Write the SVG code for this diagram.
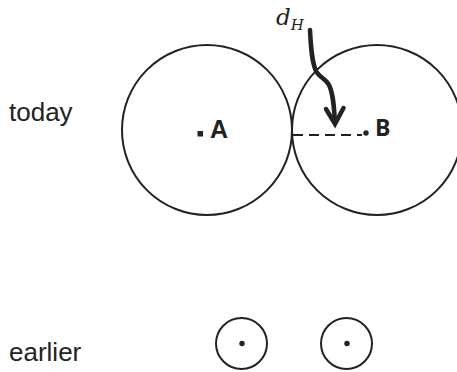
<svg xmlns="http://www.w3.org/2000/svg" width="457" height="372" viewBox="0 0 457 372">
<style>
.c{fill:none;stroke:#222;stroke-width:2}
.lbl{font-family:"Liberation Sans",Arial,sans-serif;font-size:26px;fill:#222}
.dot{fill:#222}
</style>
<rect width="457" height="372" fill="#fff"/>
<text class="lbl" x="9" y="121">today</text>
<text class="lbl" x="9" y="361">earlier</text>
<g id="circleA">
<circle class="c" cx="207" cy="130" r="85"/>
<rect class="dot" x="197.5" y="131" width="5.5" height="5.5"/>
<text x="210" y="138" style="font-family:'Liberation Sans',Arial,sans-serif;font-weight:bold;font-size:25px;fill:#222">A</text>
</g>
<g id="circleB">
<circle class="c" cx="377" cy="130" r="85"/>
<circle class="dot" cx="366" cy="133" r="2.7"/>
<text x="375" y="136" style="font-family:'Open Sans',sans-serif;font-weight:bold;font-size:23px;fill:#222">B</text>
</g>
<g id="earlierA">
<circle class="c" cx="241.5" cy="343.5" r="25.5"/>
<circle class="dot" cx="242" cy="343.5" r="2.7"/>
</g>
<g id="earlierB">
<circle class="c" cx="346.5" cy="343.5" r="25.5"/>
<circle class="dot" cx="347" cy="343.5" r="2.7"/>
</g>
<g id="connectors">
<line x1="293" y1="135" x2="362" y2="135" stroke="#222" stroke-width="2" stroke-dasharray="10 6"/>
<path d="M310,30 C311,50 312,62 316,71 C319,77 326,79 329,85 C333,93 334,105 335,123" fill="none" stroke="#222" stroke-width="4.5" stroke-linecap="round"/>
<polyline points="326,109 335,124 343.5,108" fill="none" stroke="#222" stroke-width="4.5" stroke-linejoin="miter" stroke-linecap="round"/>
</g>
<g id="label-dH">
<text x="276" y="25" style="font-family:'DejaVu Serif','Liberation Serif',serif;font-style:italic;font-size:23px;fill:#222">d<tspan dy="5" font-size="15">H</tspan></text>
</g>
</svg>
